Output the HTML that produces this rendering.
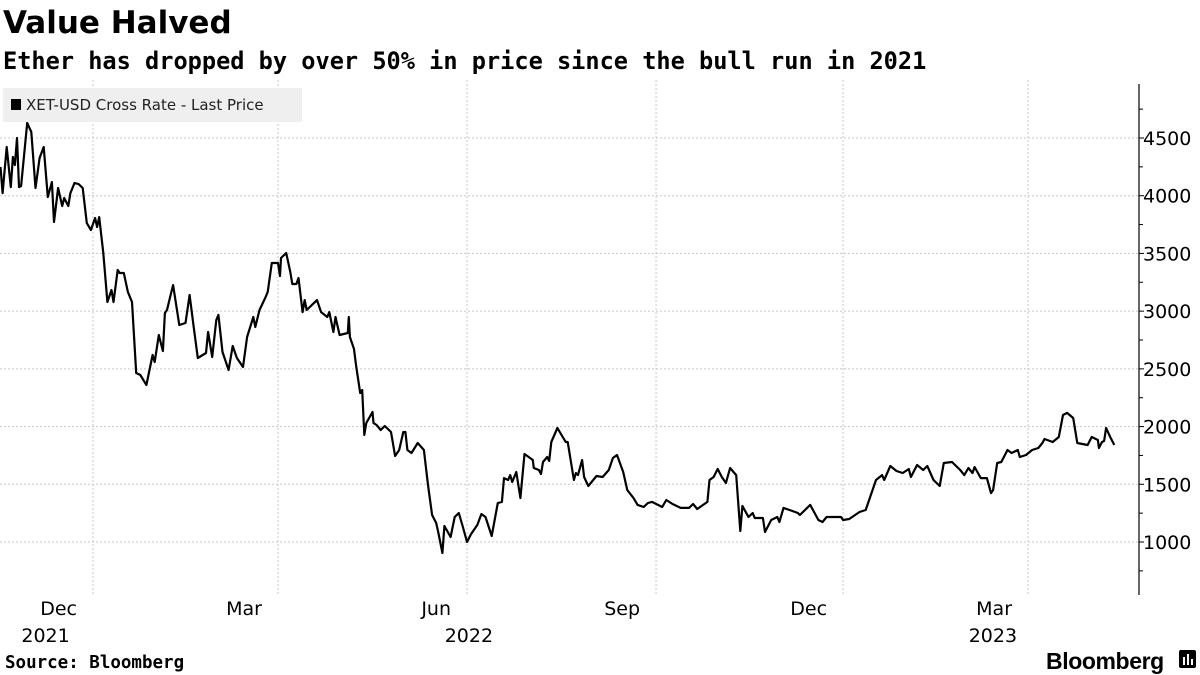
<!DOCTYPE html>
<html><head><meta charset="utf-8"><style>
body{margin:0;width:1200px;height:675px;background:#fff;overflow:hidden;font-family:"Liberation Sans","DejaVu Sans",sans-serif}
svg{position:absolute;left:0;top:0}
</style></head><body>
<svg width="1200" height="675">
<text x="3" y="33" font-size="31" font-weight="bold" fill="#000" font-family="DejaVu Sans, sans-serif">Value Halved</text>
<text x="3" y="69" font-size="23.6" font-weight="bold" fill="#000" font-family="DejaVu Sans Mono, Liberation Mono, monospace">Ether has dropped by over 50% in price since the bull run in 2021</text>
<g id="grid"></g>
<g id="axes"></g>
<path id="line" fill="none" stroke="#000" stroke-width="2.2" stroke-linejoin="round"/>
<rect x="3" y="88" width="299" height="34" fill="#efefef"/>
<rect x="11" y="99" width="10" height="11" fill="#000"/>
<text x="26" y="110" font-size="15" fill="#222" font-family="DejaVu Sans, sans-serif">XET-USD Cross Rate - Last Price</text>
<text x="5" y="668" font-size="17.5" font-weight="bold" fill="#000" font-family="DejaVu Sans Mono, monospace">Source: Bloomberg</text>
<text x="1046" y="669" font-size="23" font-weight="bold" fill="#000" letter-spacing="-0.4">Bloomberg</text>
<g><rect x="1179" y="650" width="17" height="18" rx="2" fill="#000"/><rect x="1183" y="657" width="2" height="8" fill="#fff"/><rect x="1187" y="654" width="2" height="11" fill="#fff"/><rect x="1191" y="659" width="2" height="6" fill="#fff"/></g>
</svg>
<script>
const days=[-45,-44,-42,-40,-39,-38,-37,-36,-35,-32,-30,-28,-26,-24,-22,-20,-19,-17,-15,-14,-12,-11,-9,-7,-5,-3,-1,1,2,3,5,7,9,10,12,13,15,17,19,21,23,26,29,30,32,34,35,36,38,39,42,45,47,49,51,55,56,58,60,61,63,66,68,70,73,75,78,79,81,84,85,87,90,91,91.5,94,96,97,99,100,102,103,104,109,111,114,115,117,118,120,124,124.5,125,127,128,130,131,132,133,136,136.5,138,140,142,145,147,149,151,152,153,155,158,161,163,165,167,168,170,171,174,176,178,180,182,184,187,189,191,194,197,199,200,202,203,204,206,208,210,214,214.5,217,218,219,221,222,223,226,230,231,234,235,236,238,239,241,245,248,251,253,255,258,260,263,265,268,270,272,277,279,282,286,290,292,294,299,300,302,304,306,308,310,313,315,316,319,321,322,326,327,330,333,334,336,339,343,344,349,353,355,357,364,365,368,373,376,381,384,385,388,391,394,397,398,401,404,406,409,412,414,418,422,424,426,428,429,432,435,437,438,440,442,445,447,450,451,454,457,460,462,463,467,470,472,474,477,479,484,486,489,489.5,491,492,493,495,497];
const prices=[4249,4023,4422,4075,4335,4266,4500,4075,4084,4630,4552,4067,4327,4422,3989,4119,3772,4067,3911,3980,3911,4023,4110,4101,4067,3763,3703,3807,3729,3815,3504,3079,3183,3079,3356,3330,3330,3166,3079,2464,2447,2360,2620,2559,2793,2655,2984,3010,3157,3226,2880,2897,3140,2863,2594,2637,2819,2603,2923,2967,2646,2490,2698,2594,2516,2776,2949,2863,3010,3122,3166,3417,3417,3304,3460,3504,3339,3235,3235,3287,2992,3096,3010,3096,2992,2949,2992,2819,2949,2793,2811,2949,2776,2672,2533,2291,2317,1927,2031,2126,2031,2014,1970,2005,1953,1745,1797,1953,1953,1797,1771,1858,1797,1494,1234,1165,1087,905,1139,1043,1217,1251,1130,1000,1069,1147,1243,1217,1052,1338,1347,1554,1537,1580,1520,1606,1381,1762,1710,1641,1624,1589,1693,1736,1702,1866,1988,1866,1866,1537,1598,1580,1710,1563,1485,1572,1563,1624,1728,1754,1606,1450,1381,1321,1303,1338,1347,1303,1364,1329,1295,1295,1329,1286,1347,1537,1563,1632,1563,1511,1641,1580,1095,1312,1217,1251,1208,1208,1087,1191,1217,1173,1295,1277,1251,1234,1321,1191,1173,1217,1217,1191,1199,1260,1277,1537,1580,1537,1658,1615,1598,1632,1563,1667,1624,1658,1537,1485,1684,1693,1624,1580,1641,1598,1650,1554,1554,1424,1450,1684,1693,1797,1771,1797,1736,1754,1797,1814,1858,1892,1866,1910,2100,2118,2074,1858,1840,1910,1884,1814,1866,1875,1988,1910,1840];
const yTicks=[1000,1500,2000,2500,3000,3500,4000,4500];
const monthLabels=["Dec","Mar","Jun","Sep","Dec","Mar"];
const monthDays=[0,90,182,274,365,455];
const yearLabels=["2021","2022","2023"];
const yearDays=[-23,183,438];

const X=d=>93+d*2.055;
const Y=v=>542-(v-1000)*0.11543;
const NS="http://www.w3.org/2000/svg";
function mk(tag,attrs,parent,txt){const e=document.createElementNS(NS,tag);for(const k in attrs)e.setAttribute(k,attrs[k]);if(txt!==undefined)e.textContent=txt;parent.appendChild(e);return e;}
const grid=document.getElementById('grid'),axes=document.getElementById('axes');
yTicks.forEach(v=>{
  const l=mk('line',{x1:0,x2:1139,y1:Y(v),y2:Y(v),stroke:'#c8c8c8','stroke-dasharray':'2,2','stroke-width':1},grid);
  
  
  const t=mk('text',{x:1143,y:Y(v)+7,'font-size':19,fill:'#000','font-family':'DejaVu Sans, sans-serif'},axes,String(v));
  
  
  mk('line',{x1:1139,x2:1144,y1:Y(v),y2:Y(v),stroke:'#000'},axes);
  mk('line',{x1:1139,x2:1143,y1:Y(v+250),y2:Y(v+250),stroke:'#000'},axes);
});
mk('line',{x1:1139,x2:1143,y1:Y(750),y2:Y(750),stroke:'#000'},axes);
const ax=mk('line',{x1:1139,x2:1139,y1:84,y2:595,stroke:'#000','stroke-width':1.2},axes);


monthLabels.forEach((m,i)=>{
  const x=X(monthDays[i]);
  const l=mk('line',{x1:x,x2:x,y1:80,y2:595,stroke:'#c8c8c8','stroke-dasharray':'2,2','stroke-width':1},grid);
  
  
  const t=mk('text',{x:x-16,y:615,'font-size':19,fill:'#000','text-anchor':'end','font-family':'DejaVu Sans, sans-serif'},axes,m);
  
  
});
yearLabels.forEach((y,i)=>{
  const t=mk('text',{x:X(yearDays[i])+24,y:642,'font-size':19,fill:'#000','text-anchor':'end','font-family':'DejaVu Sans, sans-serif'},axes,y);
  
  
});
document.getElementById('line').setAttribute('d',days.map((d,i)=>(i?'L':'M')+X(d).toFixed(1)+','+Y(prices[i]).toFixed(1)).join(''));
</script>
</body></html>
